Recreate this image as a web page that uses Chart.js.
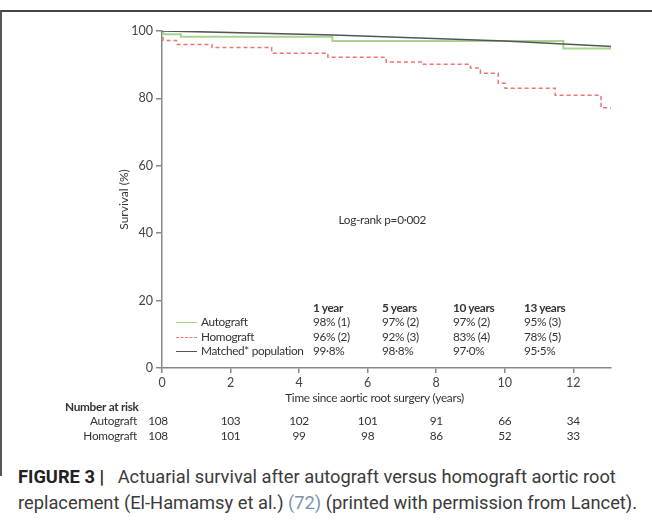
<!DOCTYPE html>
<html>
<head>
<meta charset="utf-8">
<script src="https://cdn.jsdelivr.net/npm/chart.js@4.4.0/dist/chart.umd.min.js"></script>
<style>
  html, body { margin: 0; padding: 0; background: #fff; }
  body { width: 652px; height: 521px; position: relative; overflow: hidden; font-family: Lato, "Open Sans", sans-serif; }
  #wrap { position: absolute; left: 0; top: 0; width: 652px; height: 452px; }
  .frame-top { position: absolute; left: 0; top: 10px; width: 652px; height: 2px; background: #444; }
  .frame-left { position: absolute; left: 0; top: 10px; width: 2px; height: 466px; background: #555; }
  .tbl { position: absolute; font-size: 11.8px; letter-spacing: -0.35px; color: #333; white-space: nowrap; line-height: 14px; }
  .tbl b { font-weight: 700; }
  .sw { position: absolute; width: 21px; height: 0; }
  .caption { position: absolute; left: 18px; top: 464px; width: 634px; font-family: Roboto, "Liberation Sans", sans-serif; font-size: 18.3px; line-height: 26px; color: #3a3a3a; white-space: nowrap; }
  .caption b { font-weight: 700; color: #222; }
  .caption .ref { color: #7b93b3; }
</style>
</head>
<body>
<div class="frame-top"></div>
<div class="frame-left"></div>
<div id="wrap"><canvas id="km" width="652" height="452"></canvas></div>

<!-- legend / summary table -->
<div class="sw" style="left:176px; top:322px; border-top:1.5px solid #a6d590;"></div>
<div class="sw" style="left:176px; top:337px; border-top:1.5px dashed #f07373;"></div>
<div class="sw" style="left:176px; top:351px; border-top:1.5px solid #555;"></div>
<div class="tbl" style="left:201px; top:315px;">Autograft</div>
<div class="tbl" style="left:201px; top:330px;">Homograft</div>
<div class="tbl" style="left:201px; top:344px;">Matched* population</div>
<div id="summary"></div>

<div class="caption"><b>FIGURE 3 |</b>&nbsp;&nbsp; Actuarial survival after autograft versus homograft aortic root<br>replacement (El-Hamamsy et al.) <span class="ref">(72)</span> (printed with permission from Lancet).</div>

<script>
// survival curves (years, %)
const autoTimes = [0, 0.04, 0.55, 4.97, 11.71, 13.1];
const autoSurv = [100, 99.0, 98.3, 97.0, 94.8, 94.8];

const homoTimes = [0, 0.03, 0.42, 1.46, 3.2, 4.84, 6.54, 7.57, 9.0, 9.29, 9.81, 10.01, 11.47, 12.81, 13.1];
const homoSurv = [100, 97.2, 96.0, 95.1, 93.4, 92.2, 90.8, 90.1, 89.0, 87.5, 84.5, 83.0, 80.9, 77.2, 77.2];

const matchedTimes = [0, 1, 5, 10, 13, 13.1];
const matchedSurv = [100, 99.8, 98.8, 97.0, 95.5, 95.4];

// summary table
const summaryHeads = ['1 year', '5 years', '10 years', '13 years'];
const summaryAuto = ['98% (1)', '97% (2)', '97% (2)', '95% (3)'];
const summaryHomo = ['96% (2)', '92% (3)', '83% (4)', '78% (5)'];
const summaryMatched = ['99·8%', '98·8%', '97·0%', '95·5%'];

// number at risk
const riskYears = [0, 2, 4, 6, 8, 10, 12];
const riskAuto = [108, 103, 102, 101, 91, 66, 34];
const riskHomo = [108, 101, 99, 98, 86, 52, 33];

function toPoints(xs, ys) {
    return xs.map((x, i) => ({ x: x, y: ys[i] }));
}

// summary table columns
const colLeft = [313, 382, 453, 524];
let html = '';
summaryHeads.forEach((h, i) => {
    html += '<div class="tbl" style="left:' + colLeft[i] + 'px; top:301px;"><b>' + h + '</b></div>';
    html += '<div class="tbl" style="left:' + colLeft[i] + 'px; top:315px;">' + summaryAuto[i] + '</div>';
    html += '<div class="tbl" style="left:' + colLeft[i] + 'px; top:330px;">' + summaryHomo[i] + '</div>';
    html += '<div class="tbl" style="left:' + colLeft[i] + 'px; top:344px;">' + summaryMatched[i] + '</div>';
});
document.getElementById('summary').innerHTML = html;

// extra text: log-rank, x title, number at risk
const extraText = {
    id: 'extraText',
    afterDraw(chart) {
        const ctx = chart.ctx;
        const xs = chart.scales.x;
        const ys = chart.scales.y;
        ctx.save();
        ctx.fillStyle = '#333';
        ctx.font = '11.8px Lato';
        ctx.letterSpacing = '-0.3px';
        ctx.textBaseline = 'middle';
        ctx.textAlign = 'left';
        ctx.fillText('Log-rank p=0·002', xs.getPixelForValue(5.15), ys.getPixelForValue(44));

        ctx.textAlign = 'center';
        ctx.fillText('Time since aortic root surgery (years)', xs.getPixelForValue(6.2), 398);

        ctx.textAlign = 'left';
        ctx.font = 'bold 11.8px Lato';
        ctx.fillText('Number at risk', 65, 407);
        ctx.font = '11.8px Lato';
        ctx.textAlign = 'right';
        ctx.fillText('Autograft', 137, 421);
        ctx.fillText('Homograft', 137, 436);
        ctx.textAlign = 'center';
        riskYears.forEach((yr, i) => {
            const px = xs.getPixelForValue(yr);
            ctx.fillText(String(riskAuto[i]), px - (i === 0 ? 4 : 0), 421);
            ctx.fillText(String(riskHomo[i]), px - (i === 0 ? 4 : 0), 436);
        });
        ctx.restore();
    }
};

const ctx = document.getElementById('km').getContext('2d');
new Chart(ctx, {
    type: 'line',
    data: {
        datasets: [
            {
                label: 'Matched* population',
                data: toPoints(matchedTimes, matchedSurv),
                borderColor: '#555',
                borderWidth: 1.5,
                pointRadius: 0,
                fill: false
            },
            {
                label: 'Autograft',
                data: toPoints(autoTimes, autoSurv),
                borderColor: '#a6d590',
                borderWidth: 2,
                stepped: true,
                pointRadius: 0,
                fill: false
            },
            {
                label: 'Homograft',
                data: toPoints(homoTimes, homoSurv),
                borderColor: '#f07373',
                borderWidth: 1.5,
                borderDash: [4, 3],
                stepped: true,
                pointRadius: 0,
                fill: false
            }
        ]
    },
    options: {
        responsive: false,
        animation: false,
        layout: { padding: { top: 31, right: 41, left: 0, bottom: 54 } },
        plugins: {
            legend: { display: false },
            tooltip: { enabled: false }
        },
        scales: {
            x: {
                type: 'linear',
                min: 0,
                max: 13.1,
                afterFit(scale) { scale.height = 30; },
                border: { color: '#888', width: 1.5 },
                grid: { drawOnChartArea: false, tickLength: 5, color: '#888', lineWidth: 1.5 },
                ticks: { stepSize: 2, includeBounds: false, padding: 2, color: '#444', font: { family: 'Lato', size: 12.5 } }
            },
            y: {
                min: 0,
                max: 100,
                afterFit(scale) { scale.width = 162; },
                border: { color: '#888', width: 1.5 },
                grid: { drawOnChartArea: false, tickLength: 6, color: '#888', lineWidth: 1.5 },
                ticks: { stepSize: 20, padding: 3, color: '#444', font: { family: 'Lato', size: 12.5 } },
                title: { display: true, text: 'Survival (%)', color: '#333', padding: { top: 117 }, font: { family: 'Lato', size: 12 } }
            }
        }
    },
    plugins: [extraText]
});
</script>
</body>
</html>
